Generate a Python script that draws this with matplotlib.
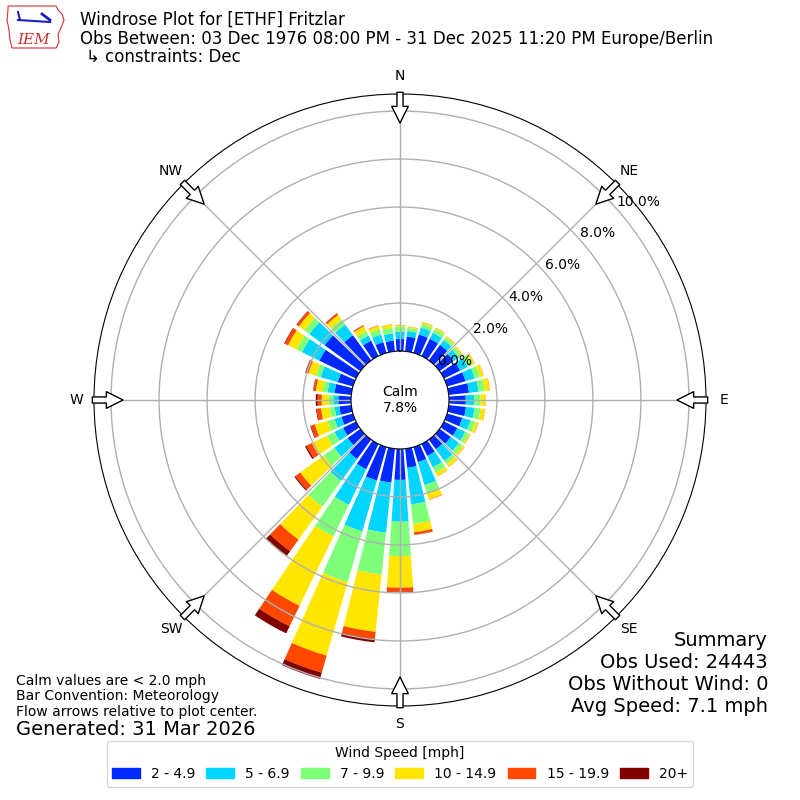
import numpy as np
import matplotlib
matplotlib.use('Agg')
import matplotlib.pyplot as plt
from matplotlib.patches import Rectangle, Polygon

directions = list(range(0, 360, 10))
bin_labels = ['2 - 4.9', '5 - 6.9', '7 - 9.9', '10 - 14.9', '15 - 19.9', '20+']

# percent of obs per direction, one list per speed bin
spd_2_5 = [0.50, 0.62, 0.80, 0.80, 0.80, 0.72, 0.75, 0.80, 0.85, 0.70, 0.72, 0.66,
           0.62, 0.58, 0.50, 0.55, 0.65, 0.80, 1.29, 1.42, 1.45, 1.17, 1.00, 0.66,
           0.60, 0.50, 0.50, 0.53, 0.70, 0.66, 1.70, 1.84, 1.30, 0.71, 0.47, 0.45]
spd_5_7 = [0.30, 0.23, 0.30, 0.28, 0.25, 0.26, 0.35, 0.40, 0.40, 0.35, 0.36, 0.36,
           0.36, 0.42, 0.60, 0.53, 1.00, 1.53, 1.74, 2.10, 2.20, 1.65, 1.13, 0.69,
           0.40, 0.30, 0.20, 0.21, 0.29, 0.74, 0.80, 0.79, 0.55, 0.24, 0.33, 0.30]
spd_7_10 = [0.22, 0.13, 0.16, 0.16, 0.13, 0.14, 0.20, 0.22, 0.25, 0.27, 0.25, 0.20,
            0.17, 0.18, 0.15, 0.25, 0.37, 0.82, 1.43, 1.75, 2.20, 1.46, 1.33, 0.55,
            0.35, 0.30, 0.22, 0.20, 0.21, 0.20, 0.25, 0.25, 0.25, 0.20, 0.23, 0.23]
spd_10_15 = [0.06, 0.05, 0.07, 0.07, 0.06, 0.06, 0.12, 0.16, 0.22, 0.20, 0.19, 0.13,
             0.07, 0.10, 0.15, 0.16, 0.25, 0.35, 1.32, 2.40, 3.19, 3.22, 1.69, 1.20,
             0.70, 0.55, 0.35, 0.28, 0.28, 0.33, 0.40, 0.29, 0.24, 0.23, 0.15, 0.14]
spd_15_20 = [0.01, 0.01, 0.01, 0.01, 0.01, 0.01, 0.01, 0.01, 0.01, 0.01, 0.01, 0.01,
             0.01, 0.01, 0.01, 0.01, 0.02, 0.10, 0.17, 0.30, 0.74, 0.95, 0.60, 0.25,
             0.25, 0.17, 0.18, 0.17, 0.10, 0.12, 0.15, 0.11, 0.08, 0.04, 0.02, 0.01]
spd_20 = [0.00, 0.00, 0.00, 0.00, 0.00, 0.00, 0.00, 0.00, 0.00, 0.00, 0.00, 0.00,
          0.00, 0.00, 0.00, 0.00, 0.00, 0.01, 0.02, 0.14, 0.27, 0.33, 0.25, 0.05,
          0.06, 0.03, 0.03, 0.08, 0.02, 0.02, 0.03, 0.02, 0.01, 0.01, 0.00, 0.00]
calm_pct = 7.8
ring_values = [0, 2, 4, 6, 8, 10]
compass = ['N', 'NE', 'E', 'SE', 'S', 'SW', 'W', 'NW']

bins = [spd_2_5, spd_5_7, spd_7_10, spd_10_15, spd_15_20, spd_20]
cmap = plt.get_cmap('jet')
colors = [cmap((i + 1) / 6.0) for i in range(6)]

fig = plt.figure(figsize=(8, 8), dpi=100)
ax = fig.add_axes([0.1175, 0.1175, 0.765, 0.765], projection='polar')
ax.set_theta_zero_location('N')
ax.set_theta_direction(-1)

theta = np.radians(directions)
width = np.radians(8)
bottom = np.zeros(len(directions))
handles = []
for vals, col, lab in zip(bins, colors, bin_labels):
    vals = np.array(vals)
    ax.bar(theta, vals, width=width, bottom=bottom, color=col, linewidth=0)
    bottom = bottom + vals
    handles.append(Rectangle((0, 0), 1, 1, color=col, label=lab))

ax.set_rorigin(-2.04)
ax.set_ylim(0, 10.71)
ax.set_yticks(ring_values[1:])
ax.set_yticklabels([])
ax.set_xticks(np.radians(np.arange(0, 360, 45)))
ax.set_xticklabels([])
ax.grid(True, color='#b0b0b0', linewidth=1)
ax.tick_params(axis='both', length=0)

for rv in ring_values:
    ax.text(np.radians(48.5), rv, '%.1f%%' % rv, ha='left', va='bottom', fontsize=10)

ax.text(0, -2.04, 'Calm\n%.1f%%' % calm_pct, ha='center', va='center', fontsize=10)

for i, name in enumerate(compass):
    ang = np.radians(i * 45)
    ax.annotate('', xy=(ang, 9.5), xytext=(ang, 10.78),
                arrowprops=dict(arrowstyle='simple,head_length=0.6,head_width=0.6,tail_width=0.22',
                                mutation_scale=20, fc='white', ec='black', lw=1,
                                shrinkA=0, shrinkB=0),
                annotation_clip=False)
    ax.text(ang, 11.46, name, ha='center', va='center', fontsize=10, clip_on=False)

# header
fig.text(80 / 800, 1 - 20 / 800, 'Windrose Plot for [ETHF] Fritzlar', fontsize=12, va='center')
fig.text(80 / 800, 1 - 38.5 / 800,
         'Obs Between: 03 Dec 1976 08:00 PM - 31 Dec 2025 11:20 PM Europe/Berlin',
         fontsize=12, va='center')
fig.text(86 / 800, 1 - 56.5 / 800, '\u21b3 constraints: Dec', fontsize=12, va='center')

# simple logo
lax = fig.add_axes([6 / 800, 1 - 50 / 800, 60 / 800, 46 / 800])
lax.set_xlim(0, 60)
lax.set_ylim(0, 46)
lax.axis('off')
outline = [(2, 44), (50, 44), (52, 40), (56, 36), (58, 30), (55, 22), (52, 16),
           (53, 8), (50, 2), (6, 2), (4, 10), (3, 20), (1, 30), (2, 40)]
lax.add_patch(Polygon(outline, closed=True, fill=False, ec='#d03030', lw=0.8))
lax.plot([12, 44], [30, 28], color='#2020c0', lw=1.5)
lax.plot([36, 44], [36, 30], color='#2020c0', lw=2)
lax.plot([12, 14], [38, 30], color='#2020c0', lw=1.5)
lax.text(28, 10, 'IEM', color='#d03030', fontsize=11, style='italic',
         family='serif', ha='center', va='center')

# footer
fig.text(16 / 800, 1 - 681 / 800, 'Calm values are < 2.0 mph', fontsize=10, va='center')
fig.text(16 / 800, 1 - 696 / 800, 'Bar Convention: Meteorology', fontsize=10, va='center')
fig.text(16 / 800, 1 - 712 / 800, 'Flow arrows relative to plot center.', fontsize=10, va='center')
fig.text(16 / 800, 1 - 729.5 / 800, 'Generated: 31 Mar 2026', fontsize=14, va='center')

summary = ['Summary', 'Obs Used: 24443', 'Obs Without Wind: 0', 'Avg Speed: 7.1 mph']
for i, line in enumerate(summary):
    fig.text(768 / 800, 1 - (640 + 22 * i) / 800, line, fontsize=14, ha='right', va='center')

fig.legend(handles=handles, loc='lower center', bbox_to_anchor=(0.5, 0.008), ncol=6,
           title='Wind Speed [mph]', fontsize=10, title_fontsize=10, handlelength=2,
           handleheight=0.7, columnspacing=0.8)

fig.savefig('out.png', dpi=100)
